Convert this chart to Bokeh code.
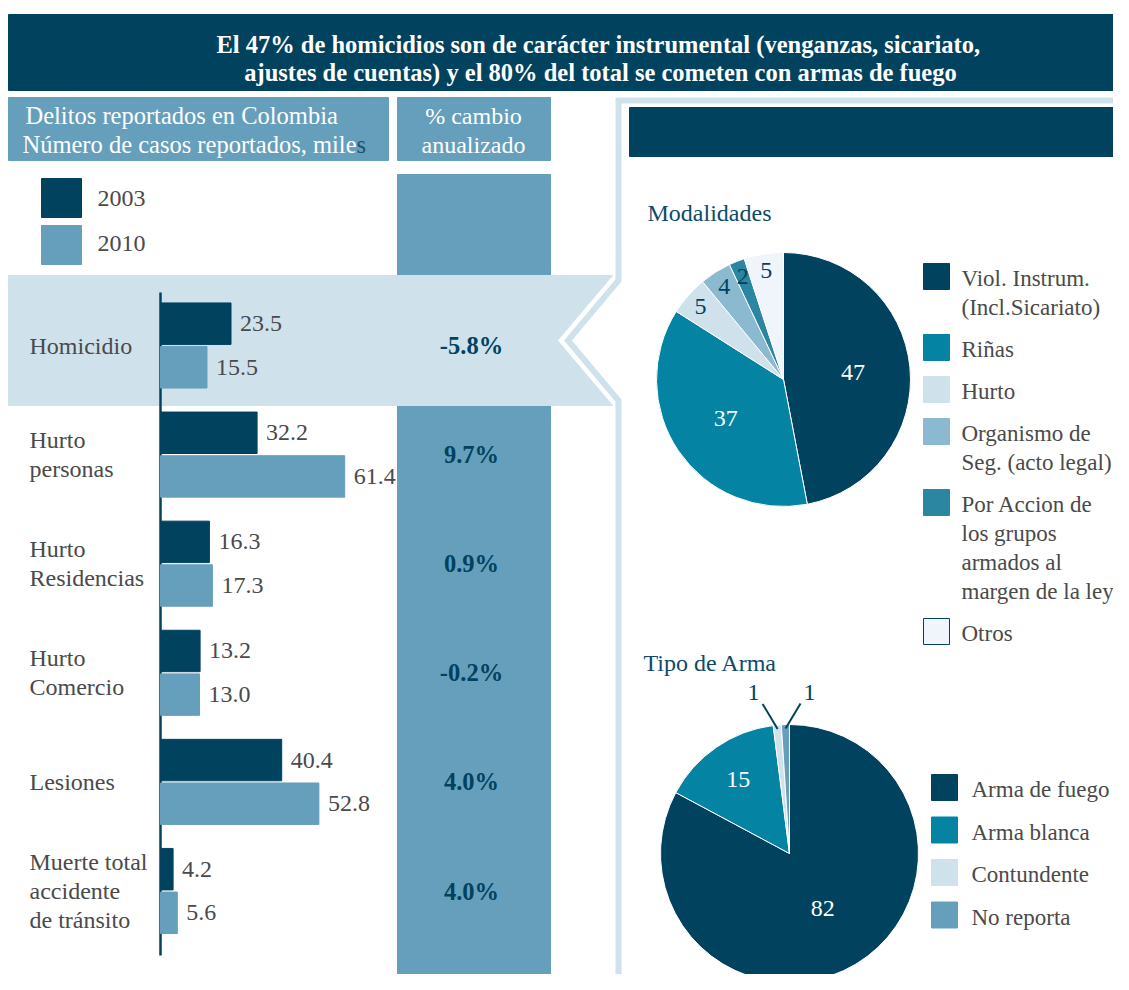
import math
from bokeh.plotting import figure
from bokeh.models import Range1d
from bokeh.embed import file_html
from bokeh.resources import INLINE
from bokeh.core.properties import value

# ---------------- data ----------------
title_lines = ["El 47% de homicidios son de carácter instrumental (venganzas, sicariato,",
               "ajustes de cuentas) y el 80% del total se cometen con armas de fuego"]
header_left = ["Delitos reportados en Colombia", "Número de casos reportados, mile", "s"]
header_mid = ["% cambio", "anualizado"]
years = ["2003", "2010"]
categories = ["Homicidio", "Hurto\npersonas", "Hurto\nResidencias", "Hurto\nComercio",
              "Lesiones", "Muerte total\naccidente\nde tránsito"]
cases_2003 = [23.5, 32.2, 16.3, 13.2, 40.4, 4.2]
cases_2010 = [15.5, 61.4, 17.3, 13.0, 52.8, 5.6]
pct_change = ["-5.8%", "9.7%", "0.9%", "-0.2%", "4.0%", "4.0%"]

mod_title = "Modalidades"
modalidades = ["Viol. Instrum.\n(Incl.Sicariato)", "Riñas", "Hurto",
               "Organismo de\nSeg. (acto legal)",
               "Por Accion de\nlos grupos\narmados al\nmargen de la ley", "Otros"]
modalidades_pct = [47, 37, 5, 4, 2, 5]

arma_title = "Tipo de Arma"
armas = ["Arma de fuego", "Arma blanca", "Contundente", "No reporta"]
armas_pct = [82, 15, 1, 1]

# ---------------- styles ----------------
NAVY = "#01425f"
STEEL = "#659fbb"
LIGHT = "#cfe2ec"
TEAL = "#0583a2"
MIDTEAL = "#2b86a1"
ORG = "#8bbad0"
OTROS = "#eff5fa"
GRAY = "#4a4a4a"
TITLEC = "#0d4a68"
FONT = value("Liberation Serif")
FS = "24px"
FS_BIG = "24.5px"
FS_LEG = "23px"

mod_colors = [NAVY, TEAL, LIGHT, ORG, MIDTEAL, OTROS]
arma_colors = [NAVY, TEAL, LIGHT, STEEL]

W, H = 1113, 974
TOTAL_H = 990


def Y(y):
    return TOTAL_H - y


p = figure(width=W, height=H, x_range=Range1d(0, W), y_range=Range1d(TOTAL_H - H, TOTAL_H),
           output_backend="svg", toolbar_location=None, min_border=0)
p.axis.visible = False
p.grid.visible = False
p.outline_line_color = None
p.background_fill_color = "white"
p.border_fill_color = "white"

# bar value scale and row scale
AX = 160
K = 3.0
p.extra_x_ranges = {"val": Range1d((0 - AX) / K, (W - AX) / K)}
ROW0, ROWSTEP = 345, 109.1
p.extra_y_ranges = {"rows": Range1d((H - ROW0) / ROWSTEP, (0 - ROW0) / ROWSTEP)}

# ---------------- frames ----------------
p.quad(left=[8], right=[1135], top=[Y(14)], bottom=[Y(90)], color=NAVY)
p.text(x=[598, 600], y=[Y(44), Y(72)], text=title_lines, text_font=FONT, text_font_size=FS_BIG,
       text_font_style="bold", text_color="white", text_align="center", text_baseline="middle")

p.quad(left=[8], right=[388], top=[Y(97)], bottom=[Y(160)], color=STEEL)
p.text(x=[25, 22], y=[Y(115), Y(144)], text=header_left[:2], text_font=FONT,
       text_font_size=FS_BIG, text_color="white", text_align="left", text_baseline="middle")
p.text(x=[356], y=[Y(144)], text=header_left[2:], text_font=FONT, text_font_size=FS_BIG,
       text_color="#1d5270", text_align="left", text_baseline="middle")

p.quad(left=[397], right=[550], top=[Y(97)], bottom=[Y(160)], color=STEEL)
p.text(x=[473, 473], y=[Y(115), Y(144)], text=header_mid, text_font=FONT, text_font_size=FS,
       text_color="white", text_align="center", text_baseline="middle")

# % change column
p.quad(left=[397], right=[550], top=[Y(174)], bottom=[Y(995)], color=STEEL)

# legend for years
p.quad(left=[41, 41], right=[81, 81], top=[Y(178), Y(225)], bottom=[Y(217), Y(264)],
       color=[NAVY, STEEL])
p.text(x=[97, 97], y=[Y(198), Y(243)], text=years, text_font=FONT, text_font_size=FS,
       text_color=GRAY, text_align="left", text_baseline="middle")

# highlight band (chevron)
p.patch(x=[8, 612, 557, 612, 8], y=[Y(275), Y(275), Y(340), Y(405), Y(405)], color=LIGHT)

# right panel border
p.line(x=[1140, 618, 618, 567.5, 618, 618, 1140],
       y=[Y(100), Y(100), Y(280), Y(340), Y(400), Y(987), Y(987)],
       line_color=LIGHT, line_width=6, line_join="miter")
p.quad(left=[629], right=[1135], top=[Y(107)], bottom=[Y(156)], color=NAVY)

# ---------------- bar chart ----------------
p.segment(x0=[AX], y0=[Y(292)], x1=[AX], y1=[Y(955)], line_color=NAVY, line_width=2.5)

idx = list(range(len(categories)))
OFF, BH = 0.2, 0.38
p.hbar(y=[i - OFF for i in idx], left=0, right=cases_2003, height=BH, color=NAVY,
       x_range_name="val", y_range_name="rows")
p.hbar(y=[i + OFF for i in idx], left=0, right=cases_2010, height=BH, color=STEEL,
       x_range_name="val", y_range_name="rows")
p.text(x=cases_2003, y=[i - OFF for i in idx], text=[f"{v:.1f}" for v in cases_2003],
       x_offset=9, text_font=FONT, text_font_size=FS, text_color=GRAY, text_align="left",
       text_baseline="middle", x_range_name="val", y_range_name="rows")
p.text(x=cases_2010, y=[i + OFF for i in idx], text=[f"{v:.1f}" for v in cases_2010],
       x_offset=9, text_font=FONT, text_font_size=FS, text_color=GRAY, text_align="left",
       text_baseline="middle", x_range_name="val", y_range_name="rows")

LINE = 29 / ROWSTEP
lx, ly, lt = [], [], []
for i, cat in enumerate(categories):
    parts = cat.split("\n")
    n = len(parts)
    for k, part in enumerate(parts):
        lx.append(29)
        ly.append(i + (k - (n - 1) / 2) * LINE)
        lt.append(part)
p.text(x=lx, y=ly, text=lt, text_font=FONT, text_font_size=FS, text_color=GRAY,
       text_align="left", text_baseline="middle", y_range_name="rows")

p.text(x=[471] * len(idx), y=idx, text=pct_change, text_font=FONT, text_font_size=FS_BIG,
       text_font_style="bold", text_color=NAVY, text_align="center", text_baseline="middle",
       y_range_name="rows")


# ---------------- pies ----------------
def pie(cx, cy, R, vals, colors):
    tot = float(sum(vals))
    starts, ends, mids = [], [], []
    cum = 0.0
    for v in vals:
        a0 = math.pi / 2 - 2 * math.pi * cum / tot
        cum += v
        a1 = math.pi / 2 - 2 * math.pi * cum / tot
        starts.append(a1)
        ends.append(a0)
        mids.append((a0 + a1) / 2)
    n = len(vals)
    p.wedge(x=[cx] * n, y=[cy] * n, radius=R, start_angle=starts, end_angle=ends,
            direction="anticlock", fill_color=colors, line_color="white", line_width=1)
    return mids


def frac_r(v):
    if v >= 30:
        return 0.55
    if v >= 10:
        return 0.7
    return 0.87


# pie 1
C1X, C1Y, R1 = 783, Y(379), 127
mids1 = pie(C1X, C1Y, R1, modalidades_pct, mod_colors)
tx, ty, tt, tc = [], [], [], []
for v, a in zip(modalidades_pct, mids1):
    r = frac_r(v) * R1
    tx.append(C1X + r * math.cos(a))
    ty.append(C1Y + r * math.sin(a))
    tt.append(str(v))
    tc.append("white" if v >= 10 else NAVY)
p.text(x=tx, y=ty, text=tt, text_color=tc, text_font=FONT, text_font_size=FS,
       text_align="center", text_baseline="middle")

p.text(x=[647], y=[Y(212)], text=[mod_title], text_font=FONT, text_font_size=FS,
       text_color=TITLEC, text_align="left", text_baseline="middle")

# legend 1
LG1_SQ, LG1_TX = 923, 961
yy = 278
sq_top, sq_bot, lx, ly, lt = [], [], [], [], []
for name in modalidades:
    parts = name.split("\n")
    sq_top.append(Y(yy - 15))
    sq_bot.append(Y(yy + 11))
    for k, part in enumerate(parts):
        lx.append(LG1_TX)
        ly.append(Y(yy + 29 * k))
        lt.append(part)
    yy = yy + 29 * (len(parts) - 1) + 42
nm = len(modalidades)
p.quad(left=[LG1_SQ] * nm, right=[LG1_SQ + 26] * nm, top=sq_top, bottom=sq_bot,
       fill_color=mod_colors, line_color=[c if c != OTROS else NAVY for c in mod_colors],
       line_width=1)
p.text(x=lx, y=ly, text=lt, text_font=FONT, text_font_size=FS_LEG, text_color=GRAY,
       text_align="left", text_baseline="middle")

# pie 2
C2X, C2Y, R2 = 789, Y(853), 129
mids2 = pie(C2X, C2Y, R2, armas_pct, arma_colors)
tx, ty, tt, tc = [], [], [], []
sx0, sy0, sx1, sy1 = [], [], [], []
side = -1
for v, a in zip(armas_pct, mids2):
    if v >= 10:
        r = frac_r(v) * R2 if v < 50 else 0.5 * R2
        tx.append(C2X + r * math.cos(a))
        ty.append(C2Y + r * math.sin(a))
        tt.append(str(v))
        tc.append("white")
    else:
        rx = C2X + 0.97 * R2 * math.cos(a)
        ry = C2Y + 0.97 * R2 * math.sin(a)
        ex, ey = rx + side * 15, ry + 25
        sx0.append(rx); sy0.append(ry); sx1.append(ex); sy1.append(ey)
        tx.append(ex + side * 9)
        ty.append(ey + 11)
        tt.append(str(v))
        tc.append(NAVY)
        side = -side
p.segment(x0=sx0, y0=sy0, x1=sx1, y1=sy1, line_color=NAVY, line_width=2)
p.text(x=tx, y=ty, text=tt, text_color=tc, text_font=FONT, text_font_size=FS,
       text_align="center", text_baseline="middle")

p.text(x=[643], y=[Y(662)], text=[arma_title], text_font=FONT, text_font_size=FS,
       text_color=TITLEC, text_align="left", text_baseline="middle")

na = len(armas)
ay = [789 + 42.5 * k for k in range(na)]
p.quad(left=[931] * na, right=[957] * na, top=[Y(c - 15) for c in ay],
       bottom=[Y(c + 11) for c in ay], color=arma_colors)
p.text(x=[971] * na, y=[Y(c) for c in ay], text=armas, text_font=FONT, text_font_size=FS_LEG,
       text_color=GRAY, text_align="left", text_baseline="middle")

open("out.html", "w").write(file_html(p, INLINE))
